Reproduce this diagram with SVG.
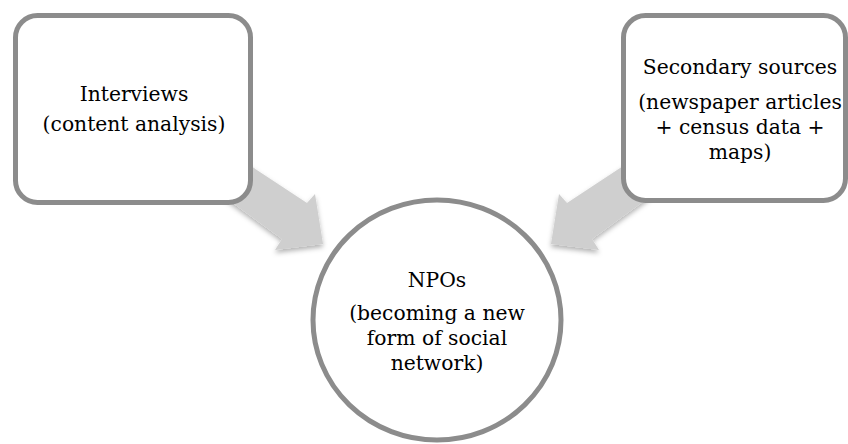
<svg xmlns="http://www.w3.org/2000/svg" width="848" height="444" viewBox="0 0 848 444">
  <style>
    .box { fill: #ffffff; stroke: #8c8c8c; stroke-width: 5; }
    .arrow { fill: #cfcfcf; filter: url(#soft); }
    .label { font-family: "DejaVu Serif", "Liberation Serif", serif; font-size: 20.3px; fill: #000000; text-anchor: middle; }
  </style>
  <defs>
    <filter id="soft" x="-20%" y="-20%" width="140%" height="150%">
      <feDropShadow dx="0" dy="3" stdDeviation="2.5" flood-color="#000000" flood-opacity="0.3"/>
    </filter>
    <polygon id="block-arrow" points="222,147 307,203 315,194 323,244 275,250 282,239 204,182"/>
  </defs>
  <rect width="848" height="444" fill="#ffffff"/>

  <!-- block arrows pointing into the central circle -->
  <g id="connectors">
    <use href="#block-arrow" class="arrow"/>
    <use href="#block-arrow" class="arrow" transform="translate(874,0) scale(-1,1)"/>
  </g>

  <g id="interviews">
    <rect class="box" x="15.5" y="15.5" width="235" height="187" rx="22"/>
    <text class="label" x="134" y="101">Interviews</text>
    <text class="label" x="134" y="131">(content analysis)</text>
  </g>

  <g id="secondary-sources">
    <rect class="box" x="623.5" y="15.5" width="222" height="185" rx="22"/>
    <text class="label" x="740" y="74">Secondary sources</text>
    <text class="label" x="740" y="109">(newspaper articles</text>
    <text class="label" x="740" y="134">+ census data +</text>
    <text class="label" x="740" y="159">maps)</text>
  </g>

  <g id="npos">
    <ellipse class="box" cx="437" cy="320" rx="124" ry="120"/>
    <text class="label" x="437" y="287">NPOs</text>
    <text class="label" x="437" y="320">(becoming a new</text>
    <text class="label" x="437" y="345">form of social</text>
    <text class="label" x="437" y="370">network)</text>
  </g>
</svg>
